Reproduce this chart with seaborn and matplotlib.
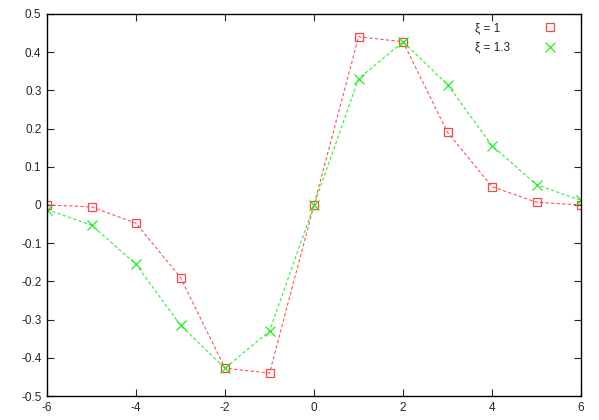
import numpy as np
import pandas as pd
import seaborn as sns
import matplotlib
matplotlib.use("Agg")
import matplotlib.pyplot as plt
from matplotlib.lines import Line2D

# values
x = [-6, -5, -4, -3, -2, -1, 0, 1, 2, 3, 4, 5, 6]
xi_1 = [0.0, -0.005, -0.048, -0.19, -0.427, -0.44, 0.0, 0.44, 0.427, 0.19, 0.048, 0.007, 0.0]
xi_13 = [-0.012, -0.053, -0.155, -0.315, -0.427, -0.33, 0.0, 0.33, 0.427, 0.315, 0.155, 0.053, 0.012]
labels = ["ξ = 1", "ξ = 1.3"]

sns.set_style("white")
plt.rcParams["font.family"] = ["Liberation Sans", "DejaVu Sans"]
plt.rcParams["font.size"] = 8.5

fig = plt.figure(figsize=(5.99, 4.2), dpi=100)
ax = fig.add_axes([0.0785, 0.057, 0.8915, 0.91])

df1 = pd.DataFrame({"x": x, "y": xi_1})
df2 = pd.DataFrame({"x": x, "y": xi_13})

red, green = "#ff4444", "#22ee22"
sns.lineplot(data=df1, x="x", y="y", ax=ax, color="#ff5555", linestyle=(0, (3, 2)),
             linewidth=0.8, marker="s", markersize=6, markerfacecolor="none",
             markeredgecolor=red, markeredgewidth=0.9, legend=False)
sns.lineplot(data=df2, x="x", y="y", ax=ax, color="#33ee33", linestyle=(0, (3, 2)),
             linewidth=0.8, marker="x", markersize=6.5, markeredgecolor=green,
             markeredgewidth=0.9, legend=False)

xt = np.arange(-6, 7, 2)
yt = np.round(np.arange(-0.5, 0.51, 0.1), 1) + 0.0
ax.set_xlim(-6, 6)
ax.set_ylim(-0.5, 0.5)
ax.set_xticks(xt)
ax.set_yticks(yt)
ax.set_xticklabels([f"{v:g}" for v in xt])
ax.set_yticklabels(["0" if abs(v) < 1e-9 else f"{v:g}" for v in yt])
ax.set_xlabel("")
ax.set_ylabel("")
for s in ax.spines.values():
    s.set_color("black")
    s.set_linewidth(1.0)
ax.tick_params(direction="in", length=5, width=0.8, top=True, right=True,
               bottom=True, left=True, labelsize=8.5, pad=4)

# legend: text left, symbols on the right, no frame
h = [Line2D([], [], linestyle="none", marker="s", markersize=6, markerfacecolor="none",
            markeredgecolor=red, markeredgewidth=0.9),
     Line2D([], [], linestyle="none", marker="x", markersize=6.5, markeredgecolor=green,
            markeredgewidth=0.9)]
l = [labels[0] + "\u2008\u2007", labels[1]]
ax.legend(h, l, loc="upper right", frameon=False, markerfirst=False,
          bbox_to_anchor=(0.975, 1.005), handlelength=1.2, handletextpad=2.8,
          labelspacing=0.6, fontsize=8.5)

fig.savefig("out.png", dpi=100)
